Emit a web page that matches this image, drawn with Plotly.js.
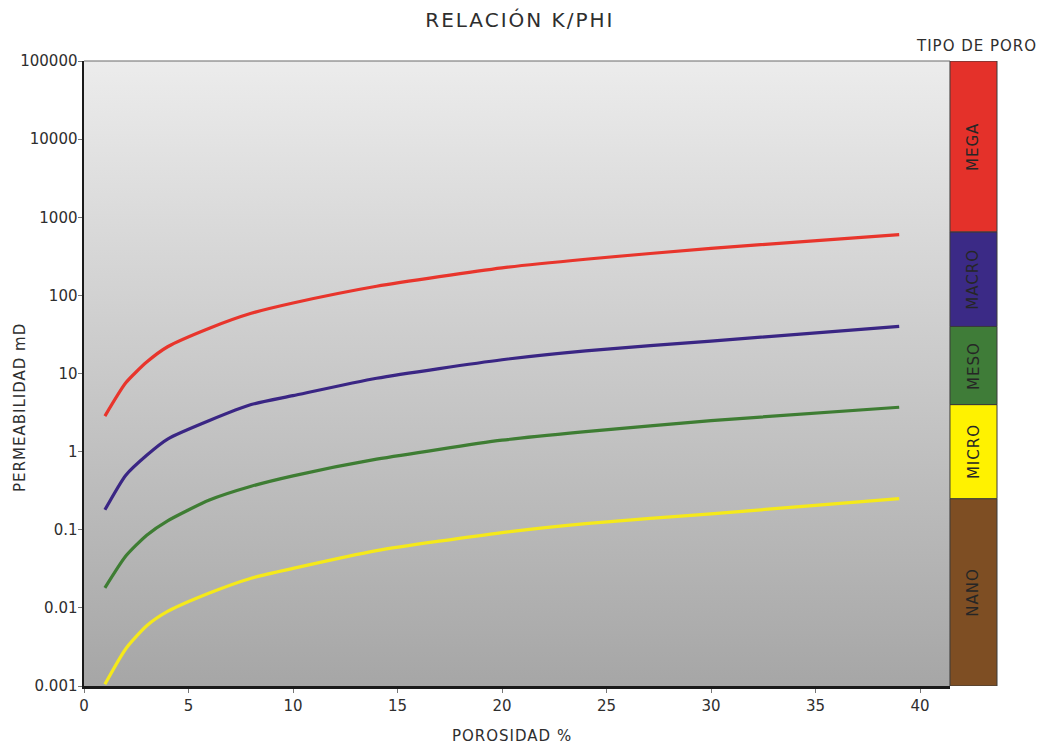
<!DOCTYPE html>
<html>
<head>
<meta charset="utf-8">
<script src="https://cdn.plot.ly/plotly-3.0.1.min.js"></script>
<style>
  html, body { margin: 0; padding: 0; background: #ffffff; }
  #chart { width: 1046px; height: 744px; }
  .gtitle { letter-spacing: 2px; }
  .annotation-text { letter-spacing: 1px; }
</style>
</head>
<body>
<div id="chart"></div>
<script>
// ---- data ----
const porosidad = [1, 2, 3, 4, 6, 8, 10, 14, 20, 24, 30, 39];
const kMega  = [2.85, 7.6, 14, 22, 38, 59, 80, 131, 225, 290, 400, 600];
const kMacro = [0.18, 0.5, 0.9, 1.45, 2.5, 4, 5.2, 8.7, 15, 19.5, 26, 40];
const kMeso  = [0.018, 0.046, 0.085, 0.13, 0.24, 0.36, 0.49, 0.8, 1.4, 1.8, 2.5, 3.7];
const kMicro = [0.00105, 0.003, 0.0059, 0.009, 0.0155, 0.024, 0.032, 0.054, 0.092, 0.12, 0.16, 0.25];

const poreTypes  = ['NANO', 'MICRO', 'MESO', 'MACRO', 'MEGA'];
const poreBounds = [0.001, 0.25, 4, 40, 650, 100000];

const yTickVals = [0.001, 0.01, 0.1, 1, 10, 100, 1000, 10000, 100000];
const yTickText = ['0.001', '0.01', '0.1', '1', '10', '100', '1000', '10000', '100000'];

// ---- styles ----
const lineColors = {MEGA: '#e8352c', MACRO: '#3a2684', MESO: '#3e7d33', MICRO: '#f5e91a'};
const bandColors = ['#7e4e23', '#fff200', '#3f7c38', '#3b2a86', '#e4312a'];
const FONT = 'DejaVu Sans, Verdana, sans-serif';
const TXT = '#2e2e2e';
const plotFrac = 0.9485;

const series = [
  ['MEGA', kMega], ['MACRO', kMacro], ['MESO', kMeso], ['MICRO', kMicro]
];
const traces = series.map(([name, ys]) => ({
  x: porosidad, y: ys, type: 'scatter', mode: 'lines', name: name,
  line: {color: lineColors[name], width: 3.2, shape: 'spline', smoothing: 0.6},
  showlegend: false, hoverinfo: 'x+y'
}));

const shapes = [];
const annotations = [];
for (let i = 0; i < poreTypes.length; i++) {
  shapes.push({
    type: 'rect', xref: 'paper', yref: 'y',
    x0: plotFrac, x1: 1, y0: poreBounds[i], y1: poreBounds[i + 1],
    fillcolor: bandColors[i], line: {color: '#3a3a3a', width: 1}, layer: 'above'
  });
  const mid = (Math.log10(poreBounds[i]) + Math.log10(poreBounds[i + 1])) / 2;
  annotations.push({
    xref: 'paper', yref: 'y', x: (plotFrac + 1) / 2, y: mid,
    xanchor: 'center', yanchor: 'middle',
    text: poreTypes[i], textangle: -90, showarrow: false,
    font: {family: FONT, size: 15, color: '#262626'}
  });
}
// top border of plot area
shapes.push({
  type: 'line', xref: 'paper', yref: 'paper', x0: 0, x1: plotFrac, y0: 1, y1: 1,
  line: {color: '#6a6a6a', width: 1.2}, layer: 'above'
});

annotations.push({
  xref: 'paper', yref: 'paper', x: 0.977, y: 1.024, xanchor: 'center', yanchor: 'middle',
  text: 'TIPO DE PORO', showarrow: false, font: {family: FONT, size: 15, color: TXT}
});
annotations.push({
  xref: 'paper', yref: 'paper', x: -0.07, y: 0.445, xanchor: 'center', yanchor: 'middle',
  text: 'PERMEABILIDAD mD', textangle: -90, showarrow: false,
  font: {family: FONT, size: 15, color: TXT}
});
annotations.push({
  xref: 'paper', yref: 'paper', x: 0.469, y: -0.08, xanchor: 'center', yanchor: 'middle',
  text: 'POROSIDAD %', showarrow: false, font: {family: FONT, size: 15, color: TXT}
});

const gradSvg = '<svg xmlns="http://www.w3.org/2000/svg" width="100" height="100" preserveAspectRatio="none">' +
  '<defs><linearGradient id="g" x1="0" y1="0" x2="0" y2="1">' +
  '<stop offset="0" stop-color="#ececec"/><stop offset="1" stop-color="#a6a6a6"/>' +
  '</linearGradient></defs><rect width="100" height="100" fill="url(#g)"/></svg>';

const layout = {
  width: 1046, height: 744,
  margin: {l: 84, r: 49, t: 61, b: 58},
  paper_bgcolor: '#ffffff', plot_bgcolor: 'rgba(0,0,0,0)',
  font: {family: FONT, size: 15, color: TXT},
  title: {
    text: 'RELACIÓN K/PHI', x: 0.497, xref: 'container', xanchor: 'center',
    y: 0.973, yref: 'container', yanchor: 'middle',
    font: {family: FONT, size: 20, color: TXT}
  },
  xaxis: {
    domain: [0, plotFrac], range: [0, 41.43], dtick: 5, tick0: 0,
    showgrid: false, zeroline: false, showline: true, linecolor: '#1a1a1a', linewidth: 2.5,
    ticks: 'outside', ticklen: 4, tickcolor: '#777', tickwidth: 1,
    tickfont: {family: FONT, size: 15, color: TXT}
  },
  yaxis: {
    type: 'log', range: [-3, 5], tickvals: yTickVals, ticktext: yTickText,
    showgrid: false, zeroline: false, showline: true, linecolor: '#1a1a1a', linewidth: 2.5,
    ticks: 'outside', ticklen: 4, tickcolor: '#777', tickwidth: 1, ticklabelstandoff: -3,
    tickfont: {family: FONT, size: 15, color: TXT}
  },
  images: [{
    source: 'data:image/svg+xml;charset=utf-8,' + encodeURIComponent(gradSvg),
    xref: 'paper', yref: 'paper', x: 0, y: 1, sizex: plotFrac, sizey: 1,
    xanchor: 'left', yanchor: 'top', sizing: 'stretch', layer: 'below'
  }],
  shapes: shapes,
  annotations: annotations,
  showlegend: false
};

Plotly.newPlot('chart', traces, layout, {displayModeBar: false, staticPlot: true});
</script>
</body>
</html>
